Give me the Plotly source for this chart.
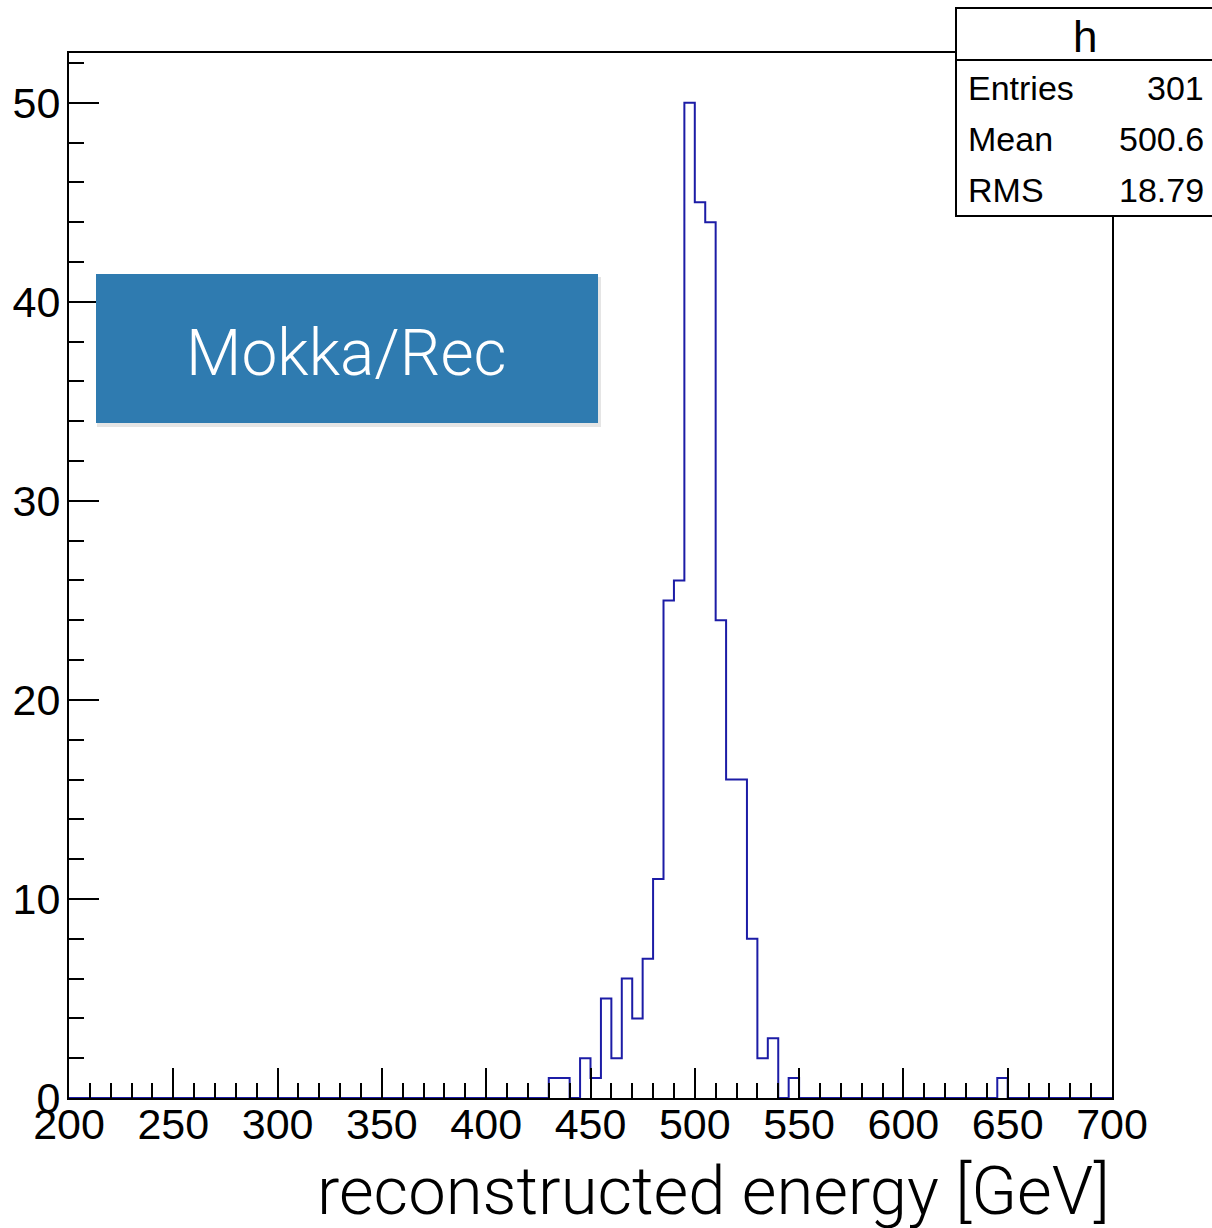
import numpy as np
import plotly.graph_objects as go

# ---- data ----
bin_width = 5
x_range = [200, 700]
bin_low = [430, 435, 445, 450, 455, 460, 465, 470, 475, 480, 485, 490, 495,
           500, 505, 510, 515, 520, 525, 530, 535, 545, 645]
counts = [1, 1, 2, 1, 5, 2, 6, 4, 7, 11, 25, 26, 50,
          45, 44, 24, 16, 16, 8, 2, 3, 1, 1]
stats_labels = ["Entries", "Mean", "RMS"]
stats_values = ["301", "500.6", "18.79"]
hist_name = "h"
x_title = "reconstructed energy [GeV]"
badge_text = "Mokka/Rec"

# full histogram
edges = np.arange(x_range[0], x_range[1] + bin_width, bin_width)
full = np.zeros(len(edges) - 1)
for lo, c in zip(bin_low, counts):
    full[int((lo - x_range[0]) // bin_width)] = c
xs = np.repeat(edges, 2)[1:-1]
ys = np.repeat(full, 2)
xs = np.concatenate([[edges[0]], xs, [edges[-1]]])
ys = np.concatenate([[0], ys, [0]])

W, H = 1212, 1228
L, R, T, B = 69, 100, 53, 130
pw, ph = W - L - R, H - T - B

def px(x):
    return (x - L) / pw

def py(y):
    return (H - B - y) / ph

fig = go.Figure()
fig.add_trace(go.Scatter(x=xs, y=ys, mode="lines",
                         line=dict(color="#1c1ca6", width=2),
                         hoverinfo="skip", showlegend=False))

tickfont = dict(family="Liberation Sans, Arial", size=43, color="black")
fig.update_layout(
    width=W, height=H,
    margin=dict(l=L, r=R, t=T, b=B, autoexpand=False),
    paper_bgcolor="white", plot_bgcolor="white",
    xaxis=dict(range=x_range, tickmode="linear", tick0=200, dtick=50,
               ticks="inside", ticklen=30, tickwidth=2, tickcolor="black",
               minor=dict(dtick=10, ticks="inside", ticklen=15, tickwidth=2, tickcolor="black"),
               showline=True, linecolor="black", linewidth=2, mirror=True,
               showgrid=False, zeroline=False, tickfont=tickfont,
               automargin=False, ticklabelstandoff=-13),
    yaxis=dict(range=[0, 52.5], tickmode="linear", tick0=0, dtick=10,
               ticks="inside", ticklen=30, tickwidth=2, tickcolor="black",
               minor=dict(dtick=2, ticks="inside", ticklen=15, tickwidth=2, tickcolor="black"),
               showline=True, linecolor="black", linewidth=2, mirror=True,
               showgrid=False, zeroline=False, tickfont=tickfont,
               automargin=False, ticklabelstandoff=-2),
)

shapes = []
# badge shadow + badge
shapes.append(dict(type="rect", xref="paper", yref="paper",
                   x0=px(97), x1=px(601), y0=py(427), y1=py(277),
                   fillcolor="rgba(0,0,0,0.10)", line=dict(width=0), layer="above"))
shapes.append(dict(type="rect", xref="paper", yref="paper",
                   x0=px(96), x1=px(598), y0=py(423), y1=py(274),
                   fillcolor="#2f7bb0", line=dict(width=0), layer="above"))
# stats box
shapes.append(dict(type="rect", xref="paper", yref="paper",
                   x0=px(956), x1=px(1240), y0=py(216), y1=py(8),
                   fillcolor="white", line=dict(color="black", width=2), layer="above"))
shapes.append(dict(type="line", xref="paper", yref="paper",
                   x0=px(956), x1=px(1240), y0=py(60), y1=py(60),
                   line=dict(color="black", width=2), layer="above"))
fig.update_layout(shapes=shapes)

ann = []
sfont = dict(family="Liberation Sans, Arial", size=34, color="black")
ann.append(dict(text=hist_name, xref="paper", yref="paper", x=px(1085), y=py(36),
                xanchor="center", yanchor="middle", showarrow=False,
                font=dict(family="Liberation Sans, Arial", size=44, color="black")))
for i, (lab, val) in enumerate(zip(stats_labels, stats_values)):
    yy = py(88 + i * 51)
    ann.append(dict(text=lab, xref="paper", yref="paper", x=px(966), y=yy,
                    xanchor="left", yanchor="middle", showarrow=False, font=sfont))
    ann.append(dict(text=val, xref="paper", yref="paper", x=px(1206), y=yy,
                    xanchor="right", yanchor="middle", showarrow=False, font=sfont))
ann.append(dict(text=badge_text, xref="paper", yref="paper", x=px(346), y=py(353),
                xanchor="center", yanchor="middle", showarrow=False,
                font=dict(family="Roboto", size=64, color="white", weight=300)))
ann.append(dict(text=x_title, xref="paper", yref="paper", x=1.0, y=py(1191),
                xanchor="right", yanchor="middle", showarrow=False,
                font=dict(family="Roboto", size=67, color="black", weight=300)))
fig.update_layout(annotations=ann)

fig.write_html("out.html")
